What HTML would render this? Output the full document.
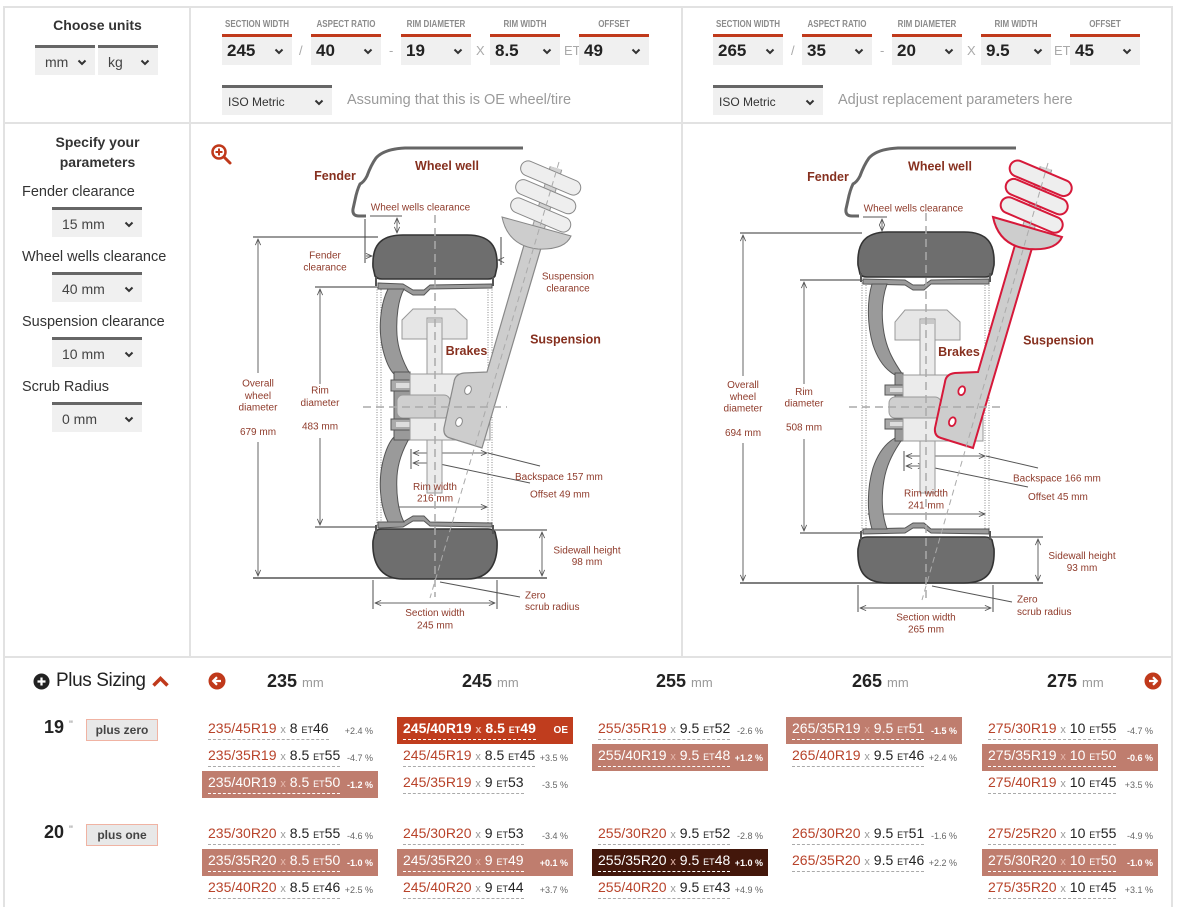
<!DOCTYPE html>
<html><head><meta charset="utf-8">
<style>
*{margin:0;padding:0;box-sizing:border-box}
html,body{width:1184px;height:907px;overflow:hidden;background:#fff}
body{position:relative;font-family:"Liberation Sans",Arial,sans-serif;color:#333}
.a{position:absolute}
.ln{position:absolute;background:#e2e2e2}
.sel{position:absolute;height:30px;background:#f0f0f0;border-top:3px solid #666;color:#444;font-size:14px;white-space:nowrap}
.sel span{position:absolute;left:10px;top:0;bottom:0;display:flex;align-items:center}
.ch{position:absolute;right:8px;top:50%;margin-top:-3px}
.ts{position:absolute;top:34px;width:70px;height:31px;background:#f0f0f0;border-top:3px solid #c0391b;font-size:17px;font-weight:bold;color:#222;line-height:28px;padding-left:5px}
.tl{position:absolute;top:19px;width:100px;text-align:center;font-size:10px;font-weight:bold;color:#8c8c8c;line-height:12px;transform:scaleX(.8);white-space:nowrap}
.sep{position:absolute;top:43px;font-size:13px;color:#aaa;line-height:16px}
.hint{position:absolute;top:91px;font-size:14.5px;color:#9a9a9a;line-height:18px;white-space:nowrap}
.lbl{position:absolute;left:22px;font-size:14.5px;color:#333;line-height:18px;white-space:nowrap}
.hd{position:absolute;top:669px;font-size:18px;font-weight:bold;color:#222;line-height:24px;white-space:nowrap}
.hd span{font-size:13px;font-weight:normal;color:#999}
.rl{position:absolute;left:44px;font-size:18px;font-weight:bold;color:#222;line-height:22px}
.rl span{font-size:11px;color:#888;font-weight:normal;vertical-align:top;position:relative;top:-2px}
.bt{position:absolute;left:86px;width:72px;height:22px;background:#e8e8e8;border:1px solid #f0b3a3;font-size:12px;font-weight:bold;color:#444;text-align:center;line-height:20px}
.e{position:absolute;width:176px;height:27px;display:flex;align-items:center;justify-content:space-between;padding:0 5px 0 6px;font-size:14px;color:#222;white-space:nowrap}
.e .m{border-bottom:1px dashed #aaa;line-height:15px;padding-bottom:1px}
.e .s{color:#b8432a}
.e .x{color:#999;font-size:11px}
.e .t{font-size:9px}
.e .p{font-size:9px;color:#666}
.e.h{background:#bf7d6e;color:#fff}
.e.h .s,.e.o .s,.e.d .s{color:#fff}
.e.h .x,.e.d .x{color:#e6b9ad}
.e.h .m,.e.o .m,.e.d .m{border-bottom-color:#fff}
.e.h .p,.e.o .p,.e.d .p{color:#fff;font-weight:bold}
.e.o{background:#c03d1e;color:#fff;font-weight:bold}
.e.o .x{color:#f0b8a8}
.e.d{background:#43170b;color:#fff}
svg text{font-family:"Liberation Sans",Arial,sans-serif}
.sm{font-size:10px;fill:#8f3b2b}
.bd{font-size:12.5px;font-weight:bold;fill:#86301f}
</style></head><body>

<!-- frame lines -->
<div class="ln" style="left:3px;top:6px;width:2px;height:901px"></div>
<div class="ln" style="left:1171px;top:6px;width:2px;height:901px"></div>
<div class="ln" style="left:3px;top:6px;width:1170px;height:2px"></div>
<div class="ln" style="left:3px;top:122px;width:1170px;height:2px"></div>
<div class="ln" style="left:3px;top:656px;width:1170px;height:2px"></div>
<div class="ln" style="left:189px;top:6px;width:2px;height:651px"></div>
<div class="ln" style="left:681px;top:6px;width:2px;height:651px"></div>

<!-- top-left -->
<div class="a" style="left:5px;top:15px;width:185px;text-align:center;font-weight:bold;font-size:14px;color:#333;line-height:20px">Choose units</div>
<div class="sel" style="left:35px;top:45px;width:60px"><span>mm</span><svg class="ch" width="10" height="7" viewBox="0 0 10 7"><path d="M1.5 1.5L5 5l3.5-3.5" fill="none" stroke="#333" stroke-width="2"/></svg></div>
<div class="sel" style="left:98px;top:45px;width:60px"><span>kg</span><svg class="ch" width="10" height="7" viewBox="0 0 10 7"><path d="M1.5 1.5L5 5l3.5-3.5" fill="none" stroke="#333" stroke-width="2"/></svg></div>

<!-- top-middle (OE) -->
<div class="tl" style="left:207px">SECTION WIDTH</div>
<div class="tl" style="left:296px">ASPECT RATIO</div>
<div class="tl" style="left:386px">RIM DIAMETER</div>
<div class="tl" style="left:475px">RIM WIDTH</div>
<div class="tl" style="left:564px">OFFSET</div>
<div class="ts" style="left:222px">245<svg class="ch" width="10" height="7" viewBox="0 0 10 7"><path d="M1.5 1.5L5 5l3.5-3.5" fill="none" stroke="#333" stroke-width="2"/></svg></div>
<div class="sep" style="left:299px">/</div>
<div class="ts" style="left:311px">40<svg class="ch" width="10" height="7" viewBox="0 0 10 7"><path d="M1.5 1.5L5 5l3.5-3.5" fill="none" stroke="#333" stroke-width="2"/></svg></div>
<div class="sep" style="left:389px">-</div>
<div class="ts" style="left:401px">19<svg class="ch" width="10" height="7" viewBox="0 0 10 7"><path d="M1.5 1.5L5 5l3.5-3.5" fill="none" stroke="#333" stroke-width="2"/></svg></div>
<div class="sep" style="left:476px">X</div>
<div class="ts" style="left:490px">8.5<svg class="ch" width="10" height="7" viewBox="0 0 10 7"><path d="M1.5 1.5L5 5l3.5-3.5" fill="none" stroke="#333" stroke-width="2"/></svg></div>
<div class="sep" style="left:564px">ET</div>
<div class="ts" style="left:579px">49<svg class="ch" width="10" height="7" viewBox="0 0 10 7"><path d="M1.5 1.5L5 5l3.5-3.5" fill="none" stroke="#333" stroke-width="2"/></svg></div>
<div class="sel" style="left:222px;top:85px;width:110px;font-size:12px;color:#333"><span style="left:6px">ISO Metric</span><svg class="ch" width="10" height="7" viewBox="0 0 10 7"><path d="M1.5 1.5L5 5l3.5-3.5" fill="none" stroke="#333" stroke-width="2"/></svg></div>
<div class="hint" style="left:347px">Assuming that this is OE wheel/tire</div>

<!-- top-right (replacement) -->
<div class="tl" style="left:698px">SECTION WIDTH</div>
<div class="tl" style="left:787px">ASPECT RATIO</div>
<div class="tl" style="left:877px">RIM DIAMETER</div>
<div class="tl" style="left:966px">RIM WIDTH</div>
<div class="tl" style="left:1055px">OFFSET</div>
<div class="ts" style="left:713px">265<svg class="ch" width="10" height="7" viewBox="0 0 10 7"><path d="M1.5 1.5L5 5l3.5-3.5" fill="none" stroke="#333" stroke-width="2"/></svg></div>
<div class="sep" style="left:791px">/</div>
<div class="ts" style="left:802px">35<svg class="ch" width="10" height="7" viewBox="0 0 10 7"><path d="M1.5 1.5L5 5l3.5-3.5" fill="none" stroke="#333" stroke-width="2"/></svg></div>
<div class="sep" style="left:880px">-</div>
<div class="ts" style="left:892px">20<svg class="ch" width="10" height="7" viewBox="0 0 10 7"><path d="M1.5 1.5L5 5l3.5-3.5" fill="none" stroke="#333" stroke-width="2"/></svg></div>
<div class="sep" style="left:967px">X</div>
<div class="ts" style="left:981px">9.5<svg class="ch" width="10" height="7" viewBox="0 0 10 7"><path d="M1.5 1.5L5 5l3.5-3.5" fill="none" stroke="#333" stroke-width="2"/></svg></div>
<div class="sep" style="left:1054px">ET</div>
<div class="ts" style="left:1070px">45<svg class="ch" width="10" height="7" viewBox="0 0 10 7"><path d="M1.5 1.5L5 5l3.5-3.5" fill="none" stroke="#333" stroke-width="2"/></svg></div>
<div class="sel" style="left:713px;top:85px;width:110px;font-size:12px;color:#333"><span style="left:6px">ISO Metric</span><svg class="ch" width="10" height="7" viewBox="0 0 10 7"><path d="M1.5 1.5L5 5l3.5-3.5" fill="none" stroke="#333" stroke-width="2"/></svg></div>
<div class="hint" style="left:838px">Adjust replacement parameters here</div>

<!-- left parameter column -->
<div class="a" style="left:5px;top:132px;width:185px;text-align:center;font-weight:bold;font-size:14px;color:#333;line-height:20px">Specify your<br>parameters</div>
<div class="lbl" style="top:183px">Fender clearance</div>
<div class="sel" style="left:52px;top:207px;width:90px"><span>15 mm</span><svg class="ch" width="10" height="7" viewBox="0 0 10 7"><path d="M1.5 1.5L5 5l3.5-3.5" fill="none" stroke="#333" stroke-width="2"/></svg></div>
<div class="lbl" style="top:248px">Wheel wells clearance</div>
<div class="sel" style="left:52px;top:272px;width:90px"><span>40 mm</span><svg class="ch" width="10" height="7" viewBox="0 0 10 7"><path d="M1.5 1.5L5 5l3.5-3.5" fill="none" stroke="#333" stroke-width="2"/></svg></div>
<div class="lbl" style="top:313px">Suspension clearance</div>
<div class="sel" style="left:52px;top:337px;width:90px"><span>10 mm</span><svg class="ch" width="10" height="7" viewBox="0 0 10 7"><path d="M1.5 1.5L5 5l3.5-3.5" fill="none" stroke="#333" stroke-width="2"/></svg></div>
<div class="lbl" style="top:378px">Scrub Radius</div>
<div class="sel" style="left:52px;top:402px;width:90px"><span>0 mm</span><svg class="ch" width="10" height="7" viewBox="0 0 10 7"><path d="M1.5 1.5L5 5l3.5-3.5" fill="none" stroke="#333" stroke-width="2"/></svg></div>

<!-- diagrams -->
<svg class="a" style="left:0;top:0" width="1184" height="907" viewBox="0 0 1184 907">
<defs>
<marker id="ar" viewBox="0 0 8 8" refX="7.5" refY="4" markerWidth="7" markerHeight="7" markerUnits="userSpaceOnUse" orient="auto-start-reverse"><path d="M0.5,1 L7.5,4 L0.5,7" fill="none" stroke="#555" stroke-width="1"/></marker>
</defs>

<!-- ============ LEFT DIAGRAM ============ -->
<g stroke="#888" stroke-width="1" stroke-dasharray="1,1.5">
<line x1="377" y1="287" x2="377" y2="527"/><line x1="381" y1="287" x2="381" y2="527"/>
<line x1="488" y1="287" x2="488" y2="527"/><line x1="492" y1="287" x2="492" y2="527"/>
</g>
<g stroke="#666" stroke-width="1" fill="none">
<line x1="253" y1="237" x2="378" y2="237" stroke="#999" stroke-width="2"/>
<line x1="258" y1="239" x2="258" y2="373" marker-start="url(#ar)"/>
<line x1="258" y1="442" x2="258" y2="576" marker-end="url(#ar)"/>
<line x1="315" y1="287" x2="377" y2="287" stroke="#999" stroke-width="2"/>
<line x1="320" y1="289" x2="320" y2="384" marker-start="url(#ar)"/>
<line x1="320" y1="438" x2="320" y2="525" marker-end="url(#ar)"/>
<line x1="315" y1="527" x2="377" y2="527" stroke="#999" stroke-width="2"/>
<line x1="253" y1="578" x2="547" y2="578" stroke="#555" stroke-width="1.5"/>
<line x1="492" y1="530" x2="547" y2="530" stroke="#999" stroke-width="2"/>
<line x1="542" y1="532" x2="542" y2="576" marker-start="url(#ar)" marker-end="url(#ar)"/>
<line x1="373" y1="580" x2="373" y2="609" stroke="#888" stroke-width="1.5"/>
<line x1="497" y1="580" x2="497" y2="609" stroke="#888" stroke-width="1.5"/>
<line x1="375" y1="603" x2="495" y2="603" marker-start="url(#ar)" marker-end="url(#ar)"/>
<line x1="370" y1="216" x2="402" y2="216" stroke="#555"/>
<line x1="397" y1="218" x2="397" y2="233" marker-start="url(#ar)" marker-end="url(#ar)"/>
<line x1="365" y1="219" x2="365" y2="263" stroke="#444"/>
<line x1="366" y1="256" x2="372" y2="256" marker-end="url(#ar)"/>
<line x1="501" y1="237" x2="501" y2="265" stroke="#444"/>
<line x1="500" y1="260" x2="498" y2="260" marker-end="url(#ar)"/>
<line x1="411" y1="449" x2="411" y2="469" stroke="#555"/>
<line x1="413" y1="453" x2="487" y2="453" marker-start="url(#ar)" marker-end="url(#ar)"/>
<line x1="488" y1="453" x2="540" y2="466" stroke="#555"/>
<line x1="413" y1="463" x2="434" y2="463" marker-start="url(#ar)" marker-end="url(#ar)"/>
<line x1="435" y1="463" x2="530" y2="483" stroke="#555"/>
<line x1="383" y1="507" x2="487" y2="507" marker-start="url(#ar)" marker-end="url(#ar)"/>
<line x1="440" y1="582" x2="520" y2="597" stroke="#555"/>
</g>
<!-- tires -->
<path d="M375,276 L373,267 C372,247 379,235 403,235 L467,235 C491,235 498,247 497,267 L495,276 Q493,279 488,279 L382,279 Q377,279 375,276 Z" fill="#6e6e6e" stroke="#333" stroke-width="1.6"/>
<path d="M375,532 L373,541 C372,561 379,579 403,579 L467,579 C491,579 498,561 497,541 L495,532 Q493,529 488,529 L382,529 Q377,529 375,532 Z" fill="#6e6e6e" stroke="#333" stroke-width="1.6"/>
<!-- rim -->
<g id="rimL">
<path d="M378,283 L403,284 L413,290 L424,290 L430,285 L492,284 L492,288 L430,289 L424,295 L413,295 L403,289 L378,289 Z" fill="#9a9a9a" stroke="#555" stroke-width="1"/>
<path d="M376,277 L376,286 M493,277 L493,286" stroke="#555" stroke-width="2"/>
<path d="M388,289 C380,305 378,330 383,350 C386,362 390,370 394,374 L410,374 C403,362 398,350 397,335 C396,318 398,300 404,289 Z" fill="#9a9a9a" stroke="#555" stroke-width="1"/>
</g>
<g transform="matrix(1 0 0 -1 0 811)">
<path d="M378,283 L403,284 L413,290 L424,290 L430,285 L492,284 L492,288 L430,289 L424,295 L413,295 L403,289 L378,289 Z" fill="#9a9a9a" stroke="#555" stroke-width="1"/>
<path d="M376,277 L376,286 M493,277 L493,286" stroke="#555" stroke-width="2"/>
<path d="M388,289 C380,305 378,330 383,350 C386,362 390,370 394,374 L410,374 C403,362 398,350 397,335 C396,318 398,300 404,289 Z" fill="#9a9a9a" stroke="#555" stroke-width="1"/>
</g>
<rect x="394" y="372" width="16" height="68" fill="#9a9a9a" stroke="#555"/>
<rect x="391" y="380" width="19" height="11" fill="#aaa" stroke="#555"/><rect x="396" y="383" width="14" height="5" fill="#ddd"/>
<rect x="391" y="419" width="19" height="11" fill="#aaa" stroke="#555"/><rect x="396" y="422" width="14" height="5" fill="#ddd"/>
<!-- brake -->
<path d="M413,309 L455,309 L467,320 L467,339 L402,339 L402,320 Z" fill="#e6e6e6" stroke="#999"/>
<rect x="427" y="318" width="15" height="175" fill="#ebebeb" stroke="#999"/>
<rect x="428" y="319" width="13" height="4" fill="#c8c8c8"/>
<rect x="410" y="374" width="80" height="66" fill="#ebebeb" stroke="#999"/>
<rect x="397" y="395" width="53" height="23" rx="6" fill="#cfcfcf" stroke="#999"/>
<!-- strut + knuckle -->
<path d="M524,245 L487,372 L464,373 Q455,374 454,382 L444,428 Q443,436 450,438 L482,448 L541,248 Z" fill="#cdcdcd" stroke="#888" stroke-width="1.2"/>
<ellipse cx="468" cy="390" rx="3.2" ry="4.5" transform="rotate(20 468 390)" fill="#fff" stroke="#888"/>
<ellipse cx="459" cy="422" rx="3.2" ry="4.5" transform="rotate(20 459 422)" fill="#fff" stroke="#888"/>
<line x1="536" y1="236" x2="556" y2="168" stroke="#999" stroke-width="13"/>
<line x1="536" y1="236" x2="556" y2="168" stroke="#d2d2d2" stroke-width="11"/>
<rect x="-32" y="-7.5" width="64" height="15" rx="7.5" transform="translate(540.7 215) rotate(23)" fill="#eee" stroke="#888"/>
<rect x="-32" y="-7.5" width="64" height="15" rx="7.5" transform="translate(545.7 196.7) rotate(23)" fill="#eee" stroke="#888"/>
<rect x="-32" y="-7.5" width="64" height="15" rx="7.5" transform="translate(550.7 178) rotate(23)" fill="#eee" stroke="#888"/>
<path d="M502,217 L571,236 Q565,250 538,249 Q508,246 502,217 Z" fill="#cdcdcd" stroke="#888"/>
<!-- dashed -->
<line x1="435" y1="215" x2="435" y2="597" stroke="#aaa" stroke-width="1.5" stroke-dasharray="8,5"/>
<line x1="559" y1="162" x2="430" y2="598" stroke="#aaa" stroke-width="1" stroke-dasharray="6,4"/>
<line x1="363" y1="407" x2="507" y2="407" stroke="#aaa" stroke-width="1.5" stroke-dasharray="8,5"/>
<!-- fender -->
<path d="M523,148 L405,148 Q384,149 376,158 Q371,165 367,176 Q364,182 360,184 Q357,190 355,200 L353,209 Q352,216 359,216 L366,216" fill="none" stroke="#666" stroke-width="3"/>
<!-- magnifier -->
<circle cx="219" cy="152" r="6.5" fill="none" stroke="#c0391b" stroke-width="2.5"/>
<path d="M215.5 152h7M219 148.5v7" stroke="#c0391b" stroke-width="2"/>
<path d="M224 157l6 6" stroke="#c0391b" stroke-width="3" stroke-linecap="round"/>
<!-- labels -->
<text class="bd" x="447" y="170" text-anchor="middle">Wheel well</text>
<text class="bd" x="335" y="180" text-anchor="middle">Fender</text>
<text class="bd" x="565.5" y="343.5" text-anchor="middle">Suspension</text>
<text class="bd" x="466.5" y="355" text-anchor="middle">Brakes</text>
<g class="sm">
<text x="420.5" y="210.5" text-anchor="middle">Wheel wells clearance</text>
<text x="325" y="258.5" text-anchor="middle">Fender</text>
<text x="325" y="270.5" text-anchor="middle">clearance</text>
<text x="568" y="279.5" text-anchor="middle">Suspension</text>
<text x="568" y="291.5" text-anchor="middle">clearance</text>
<text x="258" y="386.5" text-anchor="middle">Overall</text>
<text x="258" y="399" text-anchor="middle">wheel</text>
<text x="258" y="410.5" text-anchor="middle">diameter</text>
<text x="258" y="435" text-anchor="middle">679 mm</text>
<text x="320" y="393.5" text-anchor="middle">Rim</text>
<text x="320" y="406" text-anchor="middle">diameter</text>
<text x="320" y="429.5" text-anchor="middle">483 mm</text>
<text x="515" y="480">Backspace 157 mm</text>
<text x="530" y="497.5">Offset 49 mm</text>
<text x="435" y="490" text-anchor="middle">Rim width</text>
<text x="435" y="501.5" text-anchor="middle">216 mm</text>
<text x="587" y="553.5" text-anchor="middle">Sidewall height</text>
<text x="587" y="565" text-anchor="middle">98 mm</text>
<text x="435" y="616" text-anchor="middle">Section width</text>
<text x="435" y="628.5" text-anchor="middle">245 mm</text>
<text x="525" y="598.5">Zero</text>
<text x="525" y="610">scrub radius</text>
</g>

<!-- ============ RIGHT DIAGRAM ============ -->
<g stroke="#888" stroke-width="1" stroke-dasharray="1,1.5">
<line x1="862" y1="280" x2="862" y2="533"/><line x1="866" y1="280" x2="866" y2="533"/>
<line x1="985" y1="280" x2="985" y2="533"/><line x1="989" y1="280" x2="989" y2="533"/>
</g>
<g stroke="#666" stroke-width="1" fill="none">
<line x1="740" y1="233" x2="862" y2="233" stroke="#999" stroke-width="2"/>
<line x1="743" y1="235" x2="743" y2="376" marker-start="url(#ar)"/>
<line x1="743" y1="443" x2="743" y2="581" marker-end="url(#ar)"/>
<line x1="800" y1="280" x2="862" y2="280" stroke="#999" stroke-width="2"/>
<line x1="804" y1="282" x2="804" y2="384" marker-start="url(#ar)"/>
<line x1="804" y1="439" x2="804" y2="531" marker-end="url(#ar)"/>
<line x1="800" y1="533" x2="862" y2="533" stroke="#999" stroke-width="2"/>
<line x1="740" y1="583" x2="1043" y2="583" stroke="#555" stroke-width="1.5"/>
<line x1="990" y1="537" x2="1043" y2="537" stroke="#999" stroke-width="2"/>
<line x1="1038" y1="539" x2="1038" y2="581" marker-start="url(#ar)" marker-end="url(#ar)"/>
<line x1="858" y1="585" x2="858" y2="612" stroke="#888" stroke-width="1.5"/>
<line x1="993" y1="585" x2="993" y2="612" stroke="#888" stroke-width="1.5"/>
<line x1="860" y1="608" x2="991" y2="608" marker-start="url(#ar)" marker-end="url(#ar)"/>
<line x1="863" y1="217" x2="887" y2="217" stroke="#555"/>
<line x1="882" y1="219" x2="882" y2="231" marker-start="url(#ar)" marker-end="url(#ar)"/>
<line x1="904" y1="451" x2="904" y2="471" stroke="#555"/>
<line x1="906" y1="456" x2="985" y2="456" marker-start="url(#ar)" marker-end="url(#ar)"/>
<line x1="986" y1="456" x2="1038" y2="468" stroke="#555"/>
<line x1="906" y1="466" x2="924" y2="466" marker-start="url(#ar)" marker-end="url(#ar)"/>
<line x1="925" y1="466" x2="1028" y2="487" stroke="#555"/>
<line x1="868" y1="514" x2="985" y2="514" marker-start="url(#ar)" marker-end="url(#ar)"/>
<line x1="932" y1="586" x2="1012" y2="602" stroke="#555"/>
</g>
<path d="M860,274 L858,265 C857,244 864,232 888,232 L964,232 C988,232 995,244 994,265 L992,274 Q990,277 985,277 L867,277 Q862,277 860,274 Z" fill="#6e6e6e" stroke="#333" stroke-width="1.6"/>
<path d="M860,540 L858,549 C857,571 864,583 888,583 L964,583 C988,583 995,571 994,549 L992,540 Q990,537 985,537 L867,537 Q862,537 860,540 Z" fill="#6e6e6e" stroke="#333" stroke-width="1.6"/>
<path d="M863,279 L905,280 L913,285 L924,285 L931,280 L989,279 L989,284 L931,284 L924,290 L913,290 L905,285 L863,284 Z" fill="#9a9a9a" stroke="#555" stroke-width="1"/>
<path d="M861,273 L861,282 M990,273 L990,282" stroke="#555" stroke-width="2"/>
<path d="M872,284 C867,300 867,325 873,345 C878,360 886,370 895,375 L903,375 C894,362 887,350 884,333 C881,315 882,298 887,284 Z" fill="#9a9a9a" stroke="#555" stroke-width="1"/>
<g transform="matrix(1 0 0 -1 0 813)">
<path d="M863,279 L905,280 L913,285 L924,285 L931,280 L989,279 L989,284 L931,284 L924,290 L913,290 L905,285 L863,284 Z" fill="#9a9a9a" stroke="#555" stroke-width="1"/>
<path d="M861,273 L861,282 M990,273 L990,282" stroke="#555" stroke-width="2"/>
<path d="M872,284 C867,300 867,325 873,345 C878,360 886,370 895,375 L903,375 C894,362 887,350 884,333 C881,315 882,298 887,284 Z" fill="#9a9a9a" stroke="#555" stroke-width="1"/>
</g>
<rect x="895" y="373" width="8" height="68" fill="#9a9a9a" stroke="#555"/>
<rect x="885" y="385" width="18" height="10" fill="#aaa" stroke="#555"/><rect x="890" y="388" width="13" height="4" fill="#ddd"/>
<rect x="885" y="419" width="18" height="10" fill="#aaa" stroke="#555"/><rect x="890" y="422" width="13" height="4" fill="#ddd"/>
<path d="M905,310 L947,310 L960,322 L960,340 L895,340 L895,322 Z" fill="#e6e6e6" stroke="#999"/>
<rect x="920" y="319" width="15" height="174" fill="#ebebeb" stroke="#999"/>
<rect x="921" y="320" width="13" height="4" fill="#c8c8c8"/>
<rect x="903" y="375" width="80" height="66" fill="#ebebeb" stroke="#999"/>
<rect x="889" y="397" width="52" height="21" rx="6" fill="#cfcfcf" stroke="#999"/>
<path d="M1015,245 L978,372 L955,373 Q946,374 945,382 L935,428 Q934,436 941,438 L973,448 L1032,248 Z" fill="#cdcdcd" stroke="#d6193a" stroke-width="2"/>
<ellipse cx="961.7" cy="390.7" rx="3.2" ry="4.5" transform="rotate(20 961.7 390.7)" fill="#fff" stroke="#d6193a" stroke-width="1.8"/>
<ellipse cx="952.3" cy="421.7" rx="3.2" ry="4.5" transform="rotate(20 952.3 421.7)" fill="#fff" stroke="#d6193a" stroke-width="1.8"/>
<line x1="1026" y1="236" x2="1046" y2="168" stroke="#999" stroke-width="13"/>
<line x1="1026" y1="236" x2="1046" y2="168" stroke="#d2d2d2" stroke-width="11"/>
<rect x="-33" y="-8" width="66" height="16" rx="8" transform="translate(1031.7 215) rotate(23)" fill="#eee" stroke="#d6193a" stroke-width="2"/>
<rect x="-33" y="-8" width="66" height="16" rx="8" transform="translate(1036.7 196.7) rotate(23)" fill="#eee" stroke="#d6193a" stroke-width="2"/>
<rect x="-33" y="-8" width="66" height="16" rx="8" transform="translate(1040.7 178.3) rotate(23)" fill="#eee" stroke="#d6193a" stroke-width="2"/>
<path d="M993,217 L1062,237 Q1056,251 1029,249 Q999,246 993,217 Z" fill="#cdcdcd" stroke="#d6193a" stroke-width="2"/>
<line x1="926" y1="213" x2="926" y2="602" stroke="#aaa" stroke-width="1.5" stroke-dasharray="8,5"/>
<line x1="1048" y1="163" x2="922" y2="600" stroke="#aaa" stroke-width="1" stroke-dasharray="6,4"/>
<line x1="849" y1="407" x2="1000" y2="407" stroke="#aaa" stroke-width="1.5" stroke-dasharray="8,5"/>
<path d="M1016,148 L898,148 Q877,149 869,158 Q864,165 860,176 Q857,182 853,184 Q850,190 848,200 L846,209 Q845,216 852,216 L859,216" fill="none" stroke="#666" stroke-width="3"/>
<text class="bd" x="940" y="170.5" text-anchor="middle">Wheel well</text>
<text class="bd" x="828" y="181" text-anchor="middle">Fender</text>
<text class="bd" x="1058.5" y="344.5" text-anchor="middle">Suspension</text>
<text class="bd" x="959" y="356" text-anchor="middle">Brakes</text>
<g class="sm">
<text x="913.4" y="211.5" text-anchor="middle">Wheel wells clearance</text>
<text x="743" y="388" text-anchor="middle">Overall</text>
<text x="743" y="400" text-anchor="middle">wheel</text>
<text x="743" y="411.5" text-anchor="middle">diameter</text>
<text x="743" y="436" text-anchor="middle">694 mm</text>
<text x="804" y="395" text-anchor="middle">Rim</text>
<text x="804" y="406.5" text-anchor="middle">diameter</text>
<text x="804" y="430.5" text-anchor="middle">508 mm</text>
<text x="1013" y="481.5">Backspace 166 mm</text>
<text x="1028" y="500">Offset 45 mm</text>
<text x="926" y="496.5" text-anchor="middle">Rim width</text>
<text x="926" y="508.5" text-anchor="middle">241 mm</text>
<text x="1082" y="559" text-anchor="middle">Sidewall height</text>
<text x="1082" y="571" text-anchor="middle">93 mm</text>
<text x="926" y="620.5" text-anchor="middle">Section width</text>
<text x="926" y="632.5" text-anchor="middle">265 mm</text>
<text x="1017" y="602.5">Zero</text>
<text x="1017" y="615">scrub radius</text>
</g>
</svg>

<!-- plus sizing -->
<svg class="a" style="left:33px;top:673px" width="17" height="17" viewBox="0 0 17 17"><circle cx="8.5" cy="8.5" r="8" fill="#222"/><path d="M8.5 4.5v8M4.5 8.5h8" stroke="#fff" stroke-width="2.2"/></svg>
<div class="a" style="left:56px;top:669px;font-size:19px;line-height:24px;color:#222;letter-spacing:-.4px;white-space:nowrap">Plus Sizing</div>
<svg class="a" style="left:151px;top:675px" width="19" height="13" viewBox="0 0 19 13"><path d="M2.5 10.5L9.5 3.5l7 7" fill="none" stroke="#c0391b" stroke-width="3.5"/></svg>
<svg class="a" style="left:208px;top:672px" width="18" height="18" viewBox="0 0 18 18"><circle cx="9" cy="9" r="8.5" fill="#c0391b"/><path d="M13 9H5.5M9 5.2L5.2 9 9 12.8" fill="none" stroke="#fff" stroke-width="2.2"/></svg>
<svg class="a" style="left:1144px;top:672px" width="18" height="18" viewBox="0 0 18 18"><circle cx="9" cy="9" r="8.5" fill="#c0391b"/><path d="M5 9h7.5M9 5.2L12.8 9 9 12.8" fill="none" stroke="#fff" stroke-width="2.2"/></svg>
<div class="hd" style="left:267px">235 <span>mm</span></div>
<div class="hd" style="left:462px">245 <span>mm</span></div>
<div class="hd" style="left:656px">255 <span>mm</span></div>
<div class="hd" style="left:852px">265 <span>mm</span></div>
<div class="hd" style="left:1047px">275 <span>mm</span></div>

<div class="rl" style="top:716px">19 <span>"</span></div>
<div class="bt" style="top:719px">plus zero</div>
<div class="rl" style="top:821px">20 <span>"</span></div>
<div class="bt" style="top:824px">plus one</div>

<!-- 19 inch -->
<div class="e" style="left:202px;top:717px"><span class="m"><span class="s">235/45R19</span> <span class="x">x</span> 8 <span class="t">ET</span>46</span><span class="p">+2.4 %</span></div>
<div class="e" style="left:202px;top:744px"><span class="m"><span class="s">235/35R19</span> <span class="x">x</span> 8.5 <span class="t">ET</span>55</span><span class="p">-4.7 %</span></div>
<div class="e h" style="left:202px;top:771px"><span class="m"><span class="s">235/40R19</span> <span class="x">x</span> 8.5 <span class="t">ET</span>50</span><span class="p">-1.2 %</span></div>

<div class="e o" style="left:397px;top:717px"><span class="m"><span class="s">245/40R19</span> <span class="x">x</span> 8.5 <span class="t">ET</span>49</span><span class="p" style="font-size:10px">OE</span></div>
<div class="e" style="left:397px;top:744px"><span class="m"><span class="s">245/45R19</span> <span class="x">x</span> 8.5 <span class="t">ET</span>45</span><span class="p">+3.5 %</span></div>
<div class="e" style="left:397px;top:771px"><span class="m"><span class="s">245/35R19</span> <span class="x">x</span> 9 <span class="t">ET</span>53</span><span class="p">-3.5 %</span></div>

<div class="e" style="left:592px;top:717px"><span class="m"><span class="s">255/35R19</span> <span class="x">x</span> 9.5 <span class="t">ET</span>52</span><span class="p">-2.6 %</span></div>
<div class="e h" style="left:592px;top:744px"><span class="m"><span class="s">255/40R19</span> <span class="x">x</span> 9.5 <span class="t">ET</span>48</span><span class="p">+1.2 %</span></div>

<div class="e h" style="left:786px;top:717px"><span class="m"><span class="s">265/35R19</span> <span class="x">x</span> 9.5 <span class="t">ET</span>51</span><span class="p">-1.5 %</span></div>
<div class="e" style="left:786px;top:744px"><span class="m"><span class="s">265/40R19</span> <span class="x">x</span> 9.5 <span class="t">ET</span>46</span><span class="p">+2.4 %</span></div>

<div class="e" style="left:982px;top:717px"><span class="m"><span class="s">275/30R19</span> <span class="x">x</span> 10 <span class="t">ET</span>55</span><span class="p">-4.7 %</span></div>
<div class="e h" style="left:982px;top:744px"><span class="m"><span class="s">275/35R19</span> <span class="x">x</span> 10 <span class="t">ET</span>50</span><span class="p">-0.6 %</span></div>
<div class="e" style="left:982px;top:771px"><span class="m"><span class="s">275/40R19</span> <span class="x">x</span> 10 <span class="t">ET</span>45</span><span class="p">+3.5 %</span></div>

<!-- 20 inch -->
<div class="e" style="left:202px;top:822px"><span class="m"><span class="s">235/30R20</span> <span class="x">x</span> 8.5 <span class="t">ET</span>55</span><span class="p">-4.6 %</span></div>
<div class="e h" style="left:202px;top:849px"><span class="m"><span class="s">235/35R20</span> <span class="x">x</span> 8.5 <span class="t">ET</span>50</span><span class="p">-1.0 %</span></div>
<div class="e" style="left:202px;top:876px"><span class="m"><span class="s">235/40R20</span> <span class="x">x</span> 8.5 <span class="t">ET</span>46</span><span class="p">+2.5 %</span></div>

<div class="e" style="left:397px;top:822px"><span class="m"><span class="s">245/30R20</span> <span class="x">x</span> 9 <span class="t">ET</span>53</span><span class="p">-3.4 %</span></div>
<div class="e h" style="left:397px;top:849px"><span class="m"><span class="s">245/35R20</span> <span class="x">x</span> 9 <span class="t">ET</span>49</span><span class="p">+0.1 %</span></div>
<div class="e" style="left:397px;top:876px"><span class="m"><span class="s">245/40R20</span> <span class="x">x</span> 9 <span class="t">ET</span>44</span><span class="p">+3.7 %</span></div>

<div class="e" style="left:592px;top:822px"><span class="m"><span class="s">255/30R20</span> <span class="x">x</span> 9.5 <span class="t">ET</span>52</span><span class="p">-2.8 %</span></div>
<div class="e d" style="left:592px;top:849px"><span class="m"><span class="s">255/35R20</span> <span class="x">x</span> 9.5 <span class="t">ET</span>48</span><span class="p">+1.0 %</span></div>
<div class="e" style="left:592px;top:876px"><span class="m"><span class="s">255/40R20</span> <span class="x">x</span> 9.5 <span class="t">ET</span>43</span><span class="p">+4.9 %</span></div>

<div class="e" style="left:786px;top:822px"><span class="m"><span class="s">265/30R20</span> <span class="x">x</span> 9.5 <span class="t">ET</span>51</span><span class="p">-1.6 %</span></div>
<div class="e" style="left:786px;top:849px"><span class="m"><span class="s">265/35R20</span> <span class="x">x</span> 9.5 <span class="t">ET</span>46</span><span class="p">+2.2 %</span></div>

<div class="e" style="left:982px;top:822px"><span class="m"><span class="s">275/25R20</span> <span class="x">x</span> 10 <span class="t">ET</span>55</span><span class="p">-4.9 %</span></div>
<div class="e h" style="left:982px;top:849px"><span class="m"><span class="s">275/30R20</span> <span class="x">x</span> 10 <span class="t">ET</span>50</span><span class="p">-1.0 %</span></div>
<div class="e" style="left:982px;top:876px"><span class="m"><span class="s">275/35R20</span> <span class="x">x</span> 10 <span class="t">ET</span>45</span><span class="p">+3.1 %</span></div>

</body></html>
